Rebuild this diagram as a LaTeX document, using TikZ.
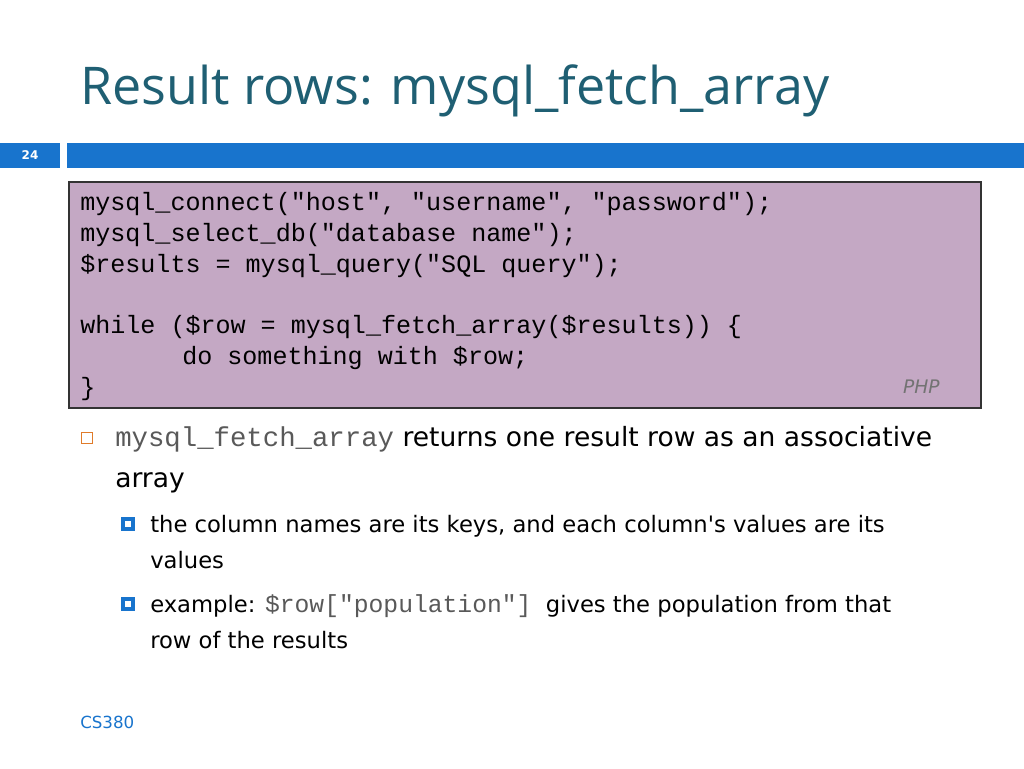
\documentclass[tikz,border=0pt]{standalone}
\usepackage{fontspec}
\setmainfont{DejaVu Sans}
\newfontfamily\titlefont{Open Sans}
\setmonofont{Liberation Mono}
\begin{document}
\begin{tikzpicture}[x=0.75pt,y=-0.75pt,
  code/.style={anchor=base west,inner sep=0pt,font=\ttfamily\fontsize{18.8}{18.8}\selectfont},
  txt/.style={anchor=base west,inner sep=0pt,font=\fontsize{19.9}{19.9}\selectfont},
  sub/.style={anchor=base west,inner sep=0pt,font=\fontsize{17}{17}\selectfont}]
\definecolor{teal}{HTML}{1F5F73}
\definecolor{barblue}{HTML}{1874CD}
\definecolor{codebg}{HTML}{C4A8C4}
\definecolor{orng}{HTML}{E07B2A}
\useasboundingbox (0,0) rectangle (1024,768);
\fill[white] (0,0) rectangle (1024,768);
\node[anchor=base west,inner sep=0pt,text=teal,font=\titlefont\fontsize{39}{39}\selectfont] (title) at (80,104) {Result rows: mysql\_fetch\_array};
\fill[barblue] (0,143) rectangle (60,168);
\node[text=white,font=\bfseries\fontsize{9}{9}\selectfont] (num) at (30,155) {24};
\fill[barblue] (67,143) rectangle (1024,168);
\draw[black!80,line width=1.5pt,fill=codebg] (69,182) rectangle (981,408);
\node[code] (c1) at (80,210) {mysql\_connect("host", "username", "password");};
\node[code] (c2) at (80,241) {mysql\_select\_db("database name");};
\node[code] (c3) at (80,272) {\$results = mysql\_query("SQL query");};
\node[code] (c4) at (80,333) {while (\$row = mysql\_fetch\_array(\$results)) \{};
\node[code] (c5) at (182,364) {do something with \$row;};
\node[code] (c6) at (80,395) {\}};
\node[anchor=base east,inner sep=0pt,text=black!55,font=\itshape\fontsize{14}{14}\selectfont] (php) at (940,393) {PHP};
\node[draw=orng,line width=0.8pt,minimum size=8,inner sep=0pt] (b1) at (87,438) {};
\node[txt] (t1) at (115,446) {{\ttfamily\fontsize{20.5}{20.5}\selectfont\color{black!65}mysql\_fetch\_array} returns one result row as an associative};
\node[txt] (t2) at (115,487) {array};
\node[draw=barblue,line width=2.5pt,minimum size=7.5,inner sep=0pt] (b2) at (128,524) {};
\node[sub] (s1) at (150,532) {the column names are its keys, and each column\textquotesingle s values are its};
\node[sub] (s2) at (150,568) {values};
\node[draw=barblue,line width=2.5pt,minimum size=7.5,inner sep=0pt] (b3) at (128,604) {};
\node[sub] (s3) at (150,612) {example: {\ttfamily\fontsize{18.5}{18.5}\selectfont\color{black!65}\$row["population"]}\ \ gives the population from that};
\node[sub] (s4) at (150,648) {row of the results};
\node[anchor=base west,inner sep=0pt,text=barblue,font=\fontsize{12.5}{12.5}\selectfont] (foot) at (80,728) {CS380};
\end{tikzpicture}
\end{document}
